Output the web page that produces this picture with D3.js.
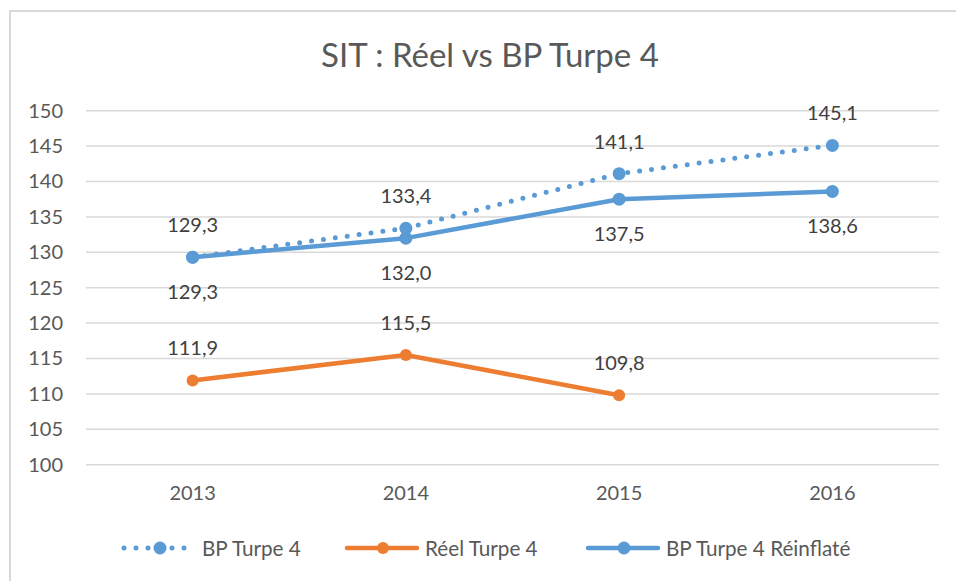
<!DOCTYPE html>
<html>
<head>
<meta charset="utf-8">
<script src="https://cdn.jsdelivr.net/npm/d3@7"></script>
<style>
  html, body { margin: 0; padding: 0; background: #fff; }
  svg { display: block; font-family: Lato, "Open Sans", sans-serif; }
</style>
</head>
<body>
<svg id="chart" width="956" height="581"></svg>
<script>
// Data
const years = ["2013", "2014", "2015", "2016"];
const bpTurpe4 = [129.3, 133.4, 141.1, 145.1];
const reelTurpe4 = [111.9, 115.5, 109.8, null];
const bpReinflate = [129.3, 132.0, 137.5, 138.6];
const yTicks = [100, 105, 110, 115, 120, 125, 130, 135, 140, 145, 150];
const seriesNames = ["BP Turpe 4", "Réel Turpe 4", "BP Turpe 4 Réinflaté"];
const title = "SIT : Réel vs BP Turpe 4";

const BLUE = "#5B9BD5", ORANGE = "#ED7D31", TEXT = "#595959", GRID = "#D9D9D9";

const svg = d3.select("#chart");

// chart frame (left and top edges visible)
svg.append("rect")
  .attr("x", 10).attr("y", 11)
  .attr("width", 1000).attr("height", 700)
  .attr("fill", "#fff").attr("stroke", GRID).attr("stroke-width", 2);

// title
svg.append("text")
  .attr("x", 490).attr("y", 67)
  .attr("text-anchor", "middle")
  .attr("fill", TEXT)
  .attr("font-size", 33)
  .text(title);

const x = d3.scaleBand().domain(years).range([86, 939]);
const y = d3.scaleLinear().domain([100, 150]).range([464.7, 110.7]);
const cx = d => x(d) + x.bandwidth() / 2;

// horizontal gridlines
svg.append("g")
  .selectAll("line").data(yTicks).join("line")
  .attr("x1", 86).attr("x2", 939)
  .attr("y1", d => y(d)).attr("y2", d => y(d))
  .attr("stroke", GRID).attr("stroke-width", 1.5);

// y axis labels
const yAxis = svg.append("g")
  .attr("transform", "translate(63,0)")
  .call(d3.axisLeft(y).tickValues(yTicks).tickSize(0).tickPadding(0));
yAxis.select(".domain").remove();
yAxis.selectAll("text")
  .attr("fill", TEXT).attr("font-size", 20)
  .attr("font-family", "Lato, 'Open Sans', sans-serif");

// x axis labels
const xAxis = svg.append("g")
  .attr("transform", "translate(0,480)")
  .call(d3.axisBottom(x).tickSize(0).tickPadding(0));
xAxis.select(".domain").remove();
xAxis.selectAll("text")
  .attr("fill", TEXT).attr("font-size", 20)
  .attr("dy", "1.0em")
  .attr("font-family", "Lato, 'Open Sans', sans-serif");

const fmt = v => d3.format(".1f")(v).replace(".", ",");

const series = [
  { name: seriesNames[0], values: bpTurpe4, color: BLUE, dotted: true, labelDy: -25, r: 6.5 },
  { name: seriesNames[1], values: reelTurpe4, color: ORANGE, dotted: false, labelDy: -25, r: 6 },
  { name: seriesNames[2], values: bpReinflate, color: BLUE, dotted: false, labelDy: 42, r: 6.5 }
];

const line = d3.line()
  .defined(d => d.v != null)
  .x(d => cx(d.year))
  .y(d => y(d.v));

series.forEach(s => {
  const pts = years.map((yr, i) => ({ year: yr, v: s.values[i] }));
  const g = svg.append("g");
  g.append("path")
    .attr("d", line(pts))
    .attr("fill", "none")
    .attr("stroke", s.color)
    .attr("stroke-width", s.dotted ? 5 : 4.5)
    .attr("stroke-linecap", "round")
    .attr("stroke-linejoin", "round")
    .attr("stroke-dasharray", s.dotted ? "0 12" : null);
  const valid = pts.filter(d => d.v != null);
  g.selectAll("circle").data(valid).join("circle")
    .attr("cx", d => cx(d.year)).attr("cy", d => y(d.v))
    .attr("r", s.r).attr("fill", s.color);
  s.valid = valid;
});

// data labels
series.forEach(s => {
  svg.append("g").selectAll("text").data(s.valid).join("text")
    .attr("x", d => cx(d.year))
    .attr("y", d => y(d.v) + s.labelDy)
    .attr("text-anchor", "middle")
    .attr("fill", "#404040")
    .attr("font-size", 20)
    .text(d => fmt(d.v));
});

// legend
const legendX = [124, 347, 588];
const legendY = 548;
series.forEach((s, i) => {
  const g = svg.append("g").attr("transform", `translate(${legendX[i]},${legendY})`);
  g.append("line")
    .attr("x1", 0).attr("x2", s.dotted ? 66 : 70)
    .attr("y1", 0).attr("y2", 0)
    .attr("stroke", s.color).attr("stroke-width", s.dotted ? 5 : 4.5)
    .attr("stroke-linecap", "round")
    .attr("stroke-dasharray", s.dotted ? "0 12" : null);
  g.append("circle").attr("cx", 36).attr("cy", 0).attr("r", s.r).attr("fill", s.color);
  g.append("text")
    .attr("x", 78).attr("y", 7.5)
    .attr("fill", TEXT).attr("font-size", 20.7)
    .text(s.name);
});
</script>
</body>
</html>
